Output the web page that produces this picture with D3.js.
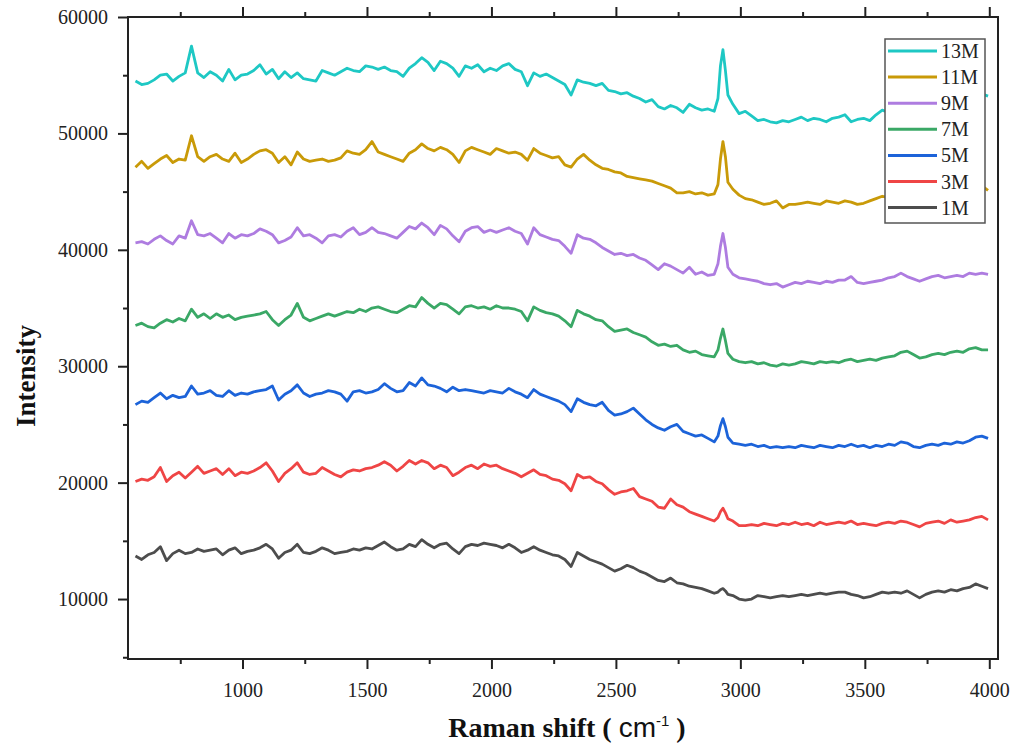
<!DOCTYPE html>
<html>
<head>
<meta charset="utf-8">
<script src="https://cdn.jsdelivr.net/npm/d3@7"></script>
<style>
  body { margin: 0; background: #fff; }
  svg { display: block; }
</style>
</head>
<body>
<div id="chart"></div>
<script>
// Raman shift (cm-1), shared by every spectrum
const shift = [
  570, 595, 620, 645, 670, 695, 720, 745, 770, 795,
  820, 845, 870, 895, 920, 945, 970, 995, 1020, 1045,
  1070, 1095, 1120, 1145, 1170, 1195, 1220, 1245, 1270, 1295,
  1320, 1345, 1370, 1395, 1420, 1445, 1470, 1495, 1520, 1545,
  1570, 1595, 1620, 1645, 1670, 1695, 1720, 1745, 1770, 1795,
  1820, 1845, 1870, 1895, 1920, 1945, 1970, 1995, 2020, 2045,
  2070, 2095, 2120, 2145, 2170, 2195, 2220, 2245, 2270, 2295,
  2320, 2345, 2370, 2395, 2420, 2445, 2470, 2495, 2520, 2545,
  2570, 2595, 2620, 2645, 2670, 2695, 2720, 2745, 2770, 2795,
  2820, 2845, 2870, 2895, 2910, 2920, 2930, 2940, 2950,
  2970, 2995, 3020, 3045, 3070, 3095, 3120, 3145, 3170, 3195,
  3220, 3245, 3270, 3295, 3320, 3345, 3370, 3395, 3420, 3445,
  3470, 3495, 3520, 3545, 3570, 3595, 3620, 3645, 3670, 3695,
  3720, 3745, 3770, 3795, 3820, 3845, 3870, 3895, 3920, 3945,
  3970, 3995
];

// Intensities
const s13M = [
  54500, 54200, 54300, 54600, 55000, 55100, 54500, 54900, 55200, 57500,
  55200, 54800, 55300, 55000, 54500, 55500, 54600, 55000, 55100, 55400,
  55900, 55100, 55500, 54700, 55300, 54800, 55200, 54700, 54600, 54500,
  55400, 55200, 55000, 55300, 55600, 55400, 55300, 55800, 55700, 55500,
  55700, 55400, 55300, 54900, 55600, 56000, 56500, 56100, 55400, 56200,
  56000, 55600, 54900, 55800, 55600, 55900, 55300, 55600, 55400, 55800,
  56000, 55500, 55300, 54100, 55200, 54900, 55100, 54800, 54500, 54200,
  53300, 54600, 54400, 54300, 54100, 54300, 53700, 53600, 53400, 53500,
  53200, 53000, 52700, 52900, 52300, 52100, 52400, 52200, 51800, 52500,
  52200, 52000, 52100, 51900, 53000, 55800, 57200, 55400, 53300,
  52500, 51700, 51900, 51500, 51100, 51200, 51000, 50900, 51100, 51000,
  51200, 51400, 51100, 51300, 51200, 51000, 51300, 51400, 51600, 51000,
  51200, 51300, 51100, 51600, 52000, 51800, 52100, 52300, 52200, 52500,
  52400, 52700, 52600, 52800, 52700, 52900, 53000, 52800, 53100, 53000,
  53400, 53200
];
const s11M = [
  47100, 47600, 47000, 47400, 47800, 48100, 47500, 47800, 47700, 49800,
  48000, 47600, 48000, 48200, 47800, 47600, 48300, 47500, 47800, 48200,
  48500, 48600, 48300, 47500, 48000, 47300, 48400, 47800, 47600, 47700,
  47800, 47600, 47700, 47900, 48500, 48300, 48200, 48600, 49300, 48400,
  48200, 48000, 47800, 47600, 48300, 48600, 49100, 48700, 48500, 48800,
  48600, 48200, 47500, 48500, 48800, 48600, 48400, 48200, 48700, 48500,
  48300, 48400, 48200, 47700, 48700, 48300, 48100, 47900, 48000, 47300,
  47100, 47800, 48200, 47700, 47300, 47000, 46900, 46700, 46600, 46300,
  46200, 46100, 46000, 45900, 45700, 45500, 45300, 44900, 44900, 45000,
  44800, 44900, 44700, 44800, 45600, 47800, 49300, 48000, 45800,
  45200, 44700, 44400, 44300, 44100, 43900, 44000, 44200, 43600, 43900,
  43900, 44000, 44100, 44000, 43900, 44200, 44100, 44000, 44200, 44100,
  43900, 44000, 44200, 44400, 44600, 44500, 44700, 44600, 44800, 44900,
  44800, 45000, 44900, 45100, 45000, 45200, 45100, 45300, 45200, 45400,
  45500, 45100
];
const s9M = [
  40600, 40700, 40500, 40900, 41200, 40800, 40500, 41200, 41000, 42500,
  41300, 41200, 41400, 41000, 40600, 41400, 41000, 41300, 41200, 41400,
  41800, 41600, 41300, 40600, 40800, 41100, 41900, 41200, 41300, 41000,
  40600, 41200, 41300, 41100, 41600, 41900, 41300, 41500, 41900, 41500,
  41400, 41200, 41000, 41500, 42000, 41800, 42300, 41900, 41300, 42100,
  41800, 41200, 40700, 41600, 41900, 42000, 41500, 41700, 41500, 41700,
  41900, 41600, 41400, 40500, 41900, 41300, 41100, 40900, 40800, 40300,
  39700, 41300, 41000, 40900, 40600, 40200, 39900, 39600, 39700, 39500,
  39600, 39300, 39100, 38700, 38300, 38800, 38600, 38300, 38000, 38500,
  37900, 38100, 37800, 37900, 38800, 40300, 41400, 40200, 38500,
  37900, 37600, 37500, 37400, 37300, 37100, 37000, 37100, 36800, 37000,
  37200, 37100, 37300, 37200, 37100, 37300, 37200, 37400, 37400, 37700,
  37200, 37100, 37200, 37300, 37400, 37600, 37700, 38000, 37700, 37500,
  37300, 37500, 37700, 37800, 37600, 37700, 37800, 37700, 38000, 37900,
  38000, 37900
];
const s7M = [
  33500, 33700, 33400, 33300, 33700, 34000, 33800, 34100, 33900, 34900,
  34200, 34500, 34100, 34500, 34200, 34400, 34000, 34200, 34300, 34400,
  34500, 34700, 34000, 33500, 34000, 34400, 35400, 34200, 33900, 34100,
  34300, 34500, 34300, 34500, 34700, 34600, 34900, 34700, 35000, 35100,
  34900, 34700, 34600, 34900, 35200, 35100, 35900, 35400, 35000, 35400,
  35300, 34900, 34500, 35100, 35200, 35000, 35100, 34900, 35200, 35000,
  35000, 34900, 34700, 33900, 35100, 34800, 34600, 34500, 34300, 33900,
  33400, 34800, 34500, 34300, 34000, 33900, 33400, 33000, 33100, 33200,
  32900, 32700, 32500, 32100, 31800, 31900, 31700, 31800, 31400, 31200,
  31300, 31000, 30900, 30800, 31400, 32400, 33200, 32200, 31100,
  30600, 30400, 30300, 30400, 30200, 30300, 30100, 30000, 30200, 30100,
  30200, 30400, 30300, 30200, 30400, 30300, 30400, 30300, 30500, 30600,
  30400, 30500, 30600, 30500, 30700, 30800, 30900, 31200, 31300, 31000,
  30700, 30800, 31000, 31100, 31000, 31200, 31300, 31200, 31500, 31600,
  31400, 31400
];
const s5M = [
  26700, 27000, 26900, 27300, 27700, 27200, 27500, 27300, 27400, 28300,
  27600, 27700, 27900, 27500, 27400, 27900, 27500, 27700, 27600, 27800,
  27900, 28000, 28300, 27100, 27600, 27900, 28400, 27700, 27400, 27600,
  27700, 27900, 27800, 27600, 27000, 27800, 27900, 27700, 27800, 28000,
  28500, 28100, 27800, 27900, 28600, 28300, 29000, 28400, 28300, 28100,
  27800, 28200, 27900, 28000, 27900, 27800, 27700, 27900, 27800, 27700,
  28100, 27800, 27600, 27300, 28000, 27600, 27400, 27200, 27000, 26700,
  26100, 27200, 26900, 26700, 26600, 26900, 26200, 25800, 25900, 26100,
  26400, 25900, 25400, 25000, 24700, 24500, 24800, 25000, 24400, 24200,
  24000, 24100, 23800, 23500, 24000, 24900, 25500, 24800, 23900,
  23400, 23300, 23200, 23300, 23100, 23200, 23000, 23100, 23000, 23100,
  23000, 23200, 23100, 23000, 23200, 23100, 23000, 23200, 23100, 23300,
  23100, 23200, 23000, 23200, 23100, 23300, 23200, 23500, 23400, 23100,
  23000, 23200, 23300, 23200, 23400, 23300, 23500, 23400, 23600, 23900,
  24000, 23800
];
const s3M = [
  20100, 20300, 20200, 20500, 21300, 20100, 20600, 20900, 20400, 20900,
  21400, 20800, 21000, 21200, 20700, 21200, 20600, 20900, 20800, 21000,
  21300, 21700, 21000, 20100, 20800, 21200, 21700, 20900, 20700, 20800,
  21300, 21000, 20700, 20500, 20900, 21100, 21000, 21200, 21300, 21500,
  21800, 21500, 21000, 21400, 21900, 21600, 21900, 21700, 21200, 21500,
  21300, 20600, 20900, 21300, 21500, 21200, 21600, 21400, 21500, 21200,
  21000, 20800, 20500, 20800, 21100, 20700, 20600, 20300, 20200, 19900,
  19300, 20700, 20400, 20500, 20100, 19900, 19400, 19000, 19200, 19300,
  19500, 18800, 18600, 18400, 17900, 17800, 18600, 18100, 17900, 17500,
  17300, 17100, 16900, 16700, 17000, 17500, 17800, 17400, 16900,
  16700, 16300, 16300, 16400, 16300, 16500, 16400, 16300, 16500, 16400,
  16600, 16400, 16500, 16300, 16600, 16400, 16500, 16600, 16500, 16700,
  16400, 16500, 16400, 16300, 16500, 16600, 16500, 16700, 16600, 16400,
  16200, 16500, 16600, 16700, 16500, 16800, 16600, 16700, 16800, 17000,
  17100, 16800
];
const s1M = [
  13700, 13400, 13800, 14000, 14500, 13300, 13900, 14200, 13900, 14000,
  14300, 14100, 14200, 14300, 13800, 14200, 14400, 13900, 14100, 14200,
  14400, 14700, 14300, 13500, 14000, 14200, 14700, 14000, 13900, 14100,
  14400, 14200, 13900, 14000, 14100, 14300, 14200, 14400, 14300, 14600,
  14900, 14500, 14200, 14300, 14700, 14500, 15100, 14700, 14400, 14700,
  14800, 14300, 13900, 14500, 14700, 14600, 14800, 14700, 14600, 14400,
  14700, 14400, 14000, 14200, 14500, 14200, 14000, 13800, 13700, 13400,
  12800, 14000, 13700, 13400, 13200, 13000, 12700, 12400, 12600, 12900,
  12700, 12400, 12200, 11900, 11600, 11500, 11800, 11400, 11300, 11100,
  11000, 10900, 10700, 10500, 10600, 10800, 10900, 10700, 10400,
  10300, 10000, 9900, 10000, 10300, 10200, 10100, 10200, 10300, 10200,
  10300, 10400, 10300, 10400, 10500, 10400, 10500, 10600, 10600, 10400,
  10300, 10100, 10200, 10400, 10600, 10500, 10600, 10500, 10700, 10400,
  10100, 10400, 10600, 10700, 10600, 10800, 10700, 10900, 11000, 11300,
  11100, 10900
];

const seriesNames = ["13M", "11M", "9M", "7M", "5M", "3M", "1M"];
const seriesValues = [s13M, s11M, s9M, s7M, s5M, s3M, s1M];
const seriesColors = ["#1ec8c4", "#c99a08", "#ae7ce0", "#3aa866", "#1c63d9", "#ef4545", "#4d4d4d"];

// Tick values
const xTicks = [1000, 1500, 2000, 2500, 3000, 3500, 4000];
const xMinor = [750, 1250, 1750, 2250, 2750, 3250, 3750];
const yTicks = [10000, 20000, 30000, 40000, 50000, 60000];
const yMinor = [5000, 15000, 25000, 35000, 45000, 55000];

const SERIF = "'Liberation Serif', 'Times New Roman', serif";

// Margins, width, & height
const margin = { top: 17, right: 17, bottom: 90, left: 128 };
const WIDTH = 1015 - margin.left - margin.right;
const HEIGHT = 749 - margin.top - margin.bottom;

const svg = d3
  .select("#chart")
  .append("svg")
  .attr("width", WIDTH + margin.left + margin.right)
  .attr("height", HEIGHT + margin.top + margin.bottom)
  .append("g")
  .attr("transform", "translate(" + margin.left + "," + margin.top + ")");

// Scales
const xScale = d3.scaleLinear().domain([540, 4035]).range([0, WIDTH]);
const yScale = d3.scaleLinear().domain([4850, 60000]).range([HEIGHT, 0]);

// Spectra
const line = d3
  .line()
  .x((d, i) => xScale(shift[i]))
  .y((d) => yScale(d));

svg
  .append("g")
  .attr("id", "spectra")
  .selectAll("path")
  .data(seriesValues.slice().reverse())
  .enter()
  .append("path")
  .attr("d", (d) => line(d))
  .attr("fill", "none")
  .attr("stroke", (d, i) => seriesColors[seriesColors.length - 1 - i])
  .attr("stroke-width", 2.8)
  .attr("stroke-linejoin", "round");

// Axes (major + minor ticks, Origin style)
function styleAxis(g) {
  g.attr("font-family", SERIF).attr("font-size", 20);
  g.select(".domain").remove();
  g.selectAll(".tick line").attr("stroke", "#222").attr("stroke-width", 2);
  g.selectAll(".tick text").attr("fill", "#222");
}

svg
  .append("g")
  .attr("transform", "translate(0," + HEIGHT + ")")
  .call(d3.axisBottom(xScale).tickValues(xTicks).tickSize(10).tickPadding(14).tickFormat(d3.format("d")))
  .call(styleAxis);
svg
  .append("g")
  .attr("transform", "translate(0," + HEIGHT + ")")
  .call(d3.axisBottom(xScale).tickValues(xMinor).tickSize(5).tickFormat(""))
  .call(styleAxis);

svg
  .append("g")
  .call(d3.axisTop(xScale).tickValues(xTicks).tickSize(10).tickFormat(""))
  .call(styleAxis);
svg
  .append("g")
  .call(d3.axisTop(xScale).tickValues(xMinor).tickSize(5).tickFormat(""))
  .call(styleAxis);

svg
  .append("g")
  .call(d3.axisLeft(yScale).tickValues(yTicks).tickSize(10).tickPadding(10).tickFormat(d3.format("d")))
  .call(styleAxis);
svg
  .append("g")
  .call(d3.axisLeft(yScale).tickValues(yMinor).tickSize(5).tickFormat(""))
  .call(styleAxis);

// Frame
svg
  .append("rect")
  .attr("width", WIDTH)
  .attr("height", HEIGHT)
  .attr("fill", "none")
  .attr("stroke", "#222")
  .attr("stroke-width", 2);

// Axis titles
const xTitle = svg
  .append("text")
  .attr("x", 439)
  .attr("y", HEIGHT + 78)
  .attr("text-anchor", "middle")
  .attr("font-family", SERIF)
  .attr("font-size", 28)
  .attr("fill", "#111");
xTitle.append("tspan").attr("font-weight", "bold").text("Raman shift ( ");
xTitle.append("tspan").attr("font-family", "'Liberation Sans', Arial, sans-serif").text("cm");
xTitle
  .append("tspan")
  .attr("dy", -11)
  .attr("font-family", "'Liberation Sans', Arial, sans-serif")
  .attr("font-size", 15)
  .text("-1");
xTitle.append("tspan").attr("dy", 11).attr("font-weight", "bold").text(" )");

svg
  .append("text")
  .attr("transform", "translate(-93," + (HEIGHT / 2 + 38) + ") rotate(-90)")
  .attr("text-anchor", "middle")
  .attr("font-family", SERIF)
  .attr("font-weight", "bold")
  .attr("font-size", 27)
  .attr("fill", "#111")
  .text("Intensity");

// Legend
const legend = svg.append("g").attr("id", "legend").attr("transform", "translate(757,22)");

legend
  .append("rect")
  .attr("width", 100)
  .attr("height", 184)
  .attr("fill", "#fff")
  .attr("stroke", "#555")
  .attr("stroke-width", 1.5);

const legItem = legend
  .selectAll(".leg-item")
  .data(seriesNames)
  .enter()
  .append("g")
  .attr("class", "leg-item")
  .attr("transform", (d, i) => "translate(0," + (12 + i * 26.1) + ")");

legItem
  .append("line")
  .attr("x1", 3)
  .attr("x2", 52)
  .attr("stroke", (d, i) => seriesColors[i])
  .attr("stroke-width", 3);

legItem
  .append("text")
  .attr("x", 56)
  .attr("y", 7)
  .attr("font-family", SERIF)
  .attr("font-size", 20)
  .attr("fill", "#222")
  .text((d) => d);
</script>
</body>
</html>
